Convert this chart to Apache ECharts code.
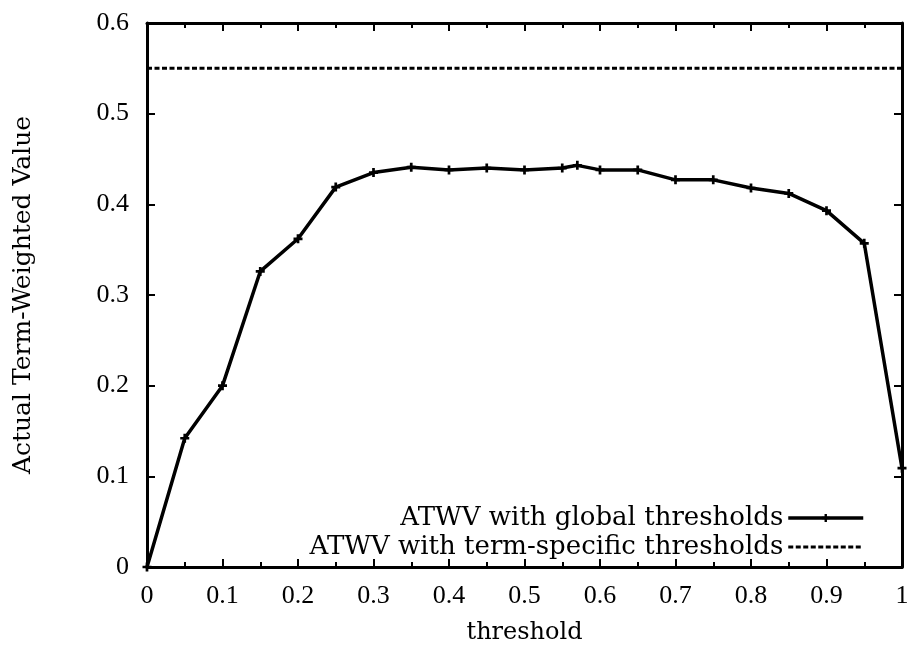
<!DOCTYPE html>
<html>
<head>
<meta charset="utf-8">
<script src="https://cdn.jsdelivr.net/npm/echarts@6/dist/echarts.min.js"></script>
<style>
html, body { margin: 0; padding: 0; background: #fff; }
#chart { width: 915px; height: 651px; }
</style>
</head>
<body>
<div id="chart"></div>
<script>
// values
var thresholds = [0, 0.05, 0.1, 0.15, 0.2, 0.25, 0.3, 0.35, 0.4, 0.45, 0.5, 0.55, 0.57, 0.6, 0.65, 0.7, 0.75, 0.8, 0.85, 0.9, 0.95, 1];
var globalAtwv = [0, 0.142, 0.2, 0.326, 0.362, 0.419, 0.435, 0.441, 0.438, 0.44, 0.438, 0.44, 0.443, 0.438, 0.438, 0.427, 0.427, 0.418, 0.412, 0.393, 0.357, 0.109];
var termX = [0, 1];
var termAtwv = [0.55, 0.55];

var textFont = '"DejaVu Serif", serif';
var numFont = '"Liberation Serif", serif';
var plus = 'path://M-1.2,-4 L1.2,-4 L1.2,-1.2 L4,-1.2 L4,1.2 L1.2,1.2 L1.2,4 L-1.2,4 L-1.2,1.2 L-4,1.2 L-4,-1.2 L-1.2,-1.2 Z';

function pairs(xs, ys) {
    return xs.map(function (x, i) { return [x, ys[i]]; });
}

var axisLine = { show: true, onZero: false, lineStyle: { color: '#000', width: 3 } };
var tick = { show: true, inside: true, length: 8, lineStyle: { color: '#000', width: 2 } };
var minor = { show: true, splitNumber: 2, length: 5, lineStyle: { color: '#000', width: 2 } };

var option = {
    animation: false,
    grid: { left: 147, right: 13, top: 23, bottom: 84 },
    legend: {
        right: 50,
        bottom: 91,
        padding: 0,
        orient: 'vertical',
        align: 'right',
        itemWidth: 75,
        itemHeight: 10,
        itemGap: 3,
        textStyle: { fontFamily: textFont, fontSize: 26, color: '#000' },
        data: [
            { name: 'ATWV with global thresholds', lineStyle: { width: 3.5 } },
            { name: 'ATWV with term-specific thresholds', lineStyle: { width: 3, type: [5, 2.5] }, itemStyle: { opacity: 0 } }
        ]
    },
    xAxis: [{
        type: 'value', min: 0, max: 1, interval: 0.1,
        name: 'threshold', nameLocation: 'middle', nameGap: 54,
        nameTextStyle: { fontFamily: textFont, fontSize: 24, color: '#000' },
        axisLine: axisLine, axisTick: tick, minorTick: minor,
        splitLine: { show: false },
        axisLabel: { margin: 16, fontFamily: numFont, fontSize: 26, color: '#000' }
    }, {
        type: 'value', min: 0, max: 1, interval: 0.1, position: 'top',
        axisLine: axisLine, axisTick: tick, minorTick: minor,
        splitLine: { show: false }, axisLabel: { show: false }
    }],
    yAxis: [{
        type: 'value', min: 0, max: 0.6, interval: 0.1,
        name: 'Actual Term-Weighted Value', nameLocation: 'middle', nameGap: 111,
        nameTextStyle: { fontFamily: textFont, fontSize: 25, color: '#000' },
        axisLine: axisLine, axisTick: tick,
        splitLine: { show: false },
        axisLabel: { margin: 18, fontFamily: numFont, fontSize: 26, color: '#000' }
    }, {
        type: 'value', min: 0, max: 0.6, interval: 0.1, position: 'right',
        axisLine: axisLine, axisTick: tick,
        splitLine: { show: false }, axisLabel: { show: false }
    }],
    series: [{
        name: 'ATWV with global thresholds',
        type: 'line',
        data: pairs(thresholds, globalAtwv),
        symbol: plus,
        symbolSize: 9,
        showAllSymbol: true,
        itemStyle: { color: '#000' },
        lineStyle: { color: '#000', width: 3.5 }
    }, {
        name: 'ATWV with term-specific thresholds',
        type: 'line',
        data: pairs(termX, termAtwv),
        symbol: 'none',
        itemStyle: { color: '#000' },
        lineStyle: { color: '#000', width: 3, type: [5, 2.5] }
    }]
};

var chart = echarts.init(document.getElementById('chart'));
chart.setOption(option);
</script>
</body>
</html>
